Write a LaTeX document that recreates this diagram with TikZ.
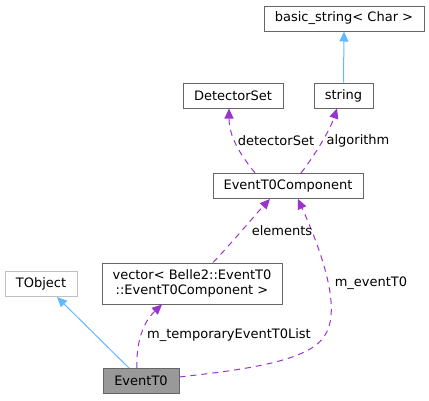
\documentclass[tikz,border=0pt]{standalone}
\usepackage{fontspec}
\setmainfont{DejaVu Sans}
\usetikzlibrary{arrows.meta,positioning}
\definecolor{usepurple}{HTML}{9A32CD}
\definecolor{inhblue}{HTML}{63B8FF}
\definecolor{boxgray}{HTML}{666666}
\definecolor{nodocgray}{HTML}{BFBFBF}
\definecolor{curfill}{HTML}{999999}
\tikzset{
  cls style/.style={rectangle, draw=boxgray, line width=1pt, fill=white,
    minimum height=25pt, inner sep=2pt, align=center,
    font=\fontsize{13}{15}\selectfont},
  inh style/.style={-{Triangle[length=10pt,width=9pt]}, draw=inhblue, line width=1pt},
  dep style/.style={-{Triangle[length=10pt,width=9pt]}, draw=usepurple, line width=1pt,
    dash pattern=on 6pt off 5pt},
  lbl style/.style={inner sep=0pt, font=\fontsize{13}{15}\selectfont}
}
\begin{document}
\begin{tikzpicture}[x=1pt,y=1pt]
\useasboundingbox (0,0) rectangle (429,-400);
% classes
\node[cls style, minimum width=160pt] (bstr) at (344,-18.5) {basic\_string< Char >};
\node[cls style, minimum width=100pt] (det) at (233,-95.5) {DetectorSet};
\node[cls style, minimum width=59pt] (str) at (343.5,-95.5) {string};
\node[cls style, minimum width=150pt] (comp) at (288,-186) {EventT0Component};
\node[cls style, draw=nodocgray, minimum width=72pt] (tobj) at (41,-284) {TObject};
\node[cls style, minimum width=180pt, minimum height=41pt] (vec) at (192,-283.5)
  {vector< Belle2::EventT0\\::EventT0Component >};
\node[cls style, fill=curfill, minimum width=76pt] (evt) at (141,-381) {EventT0};
% inheritance
\draw[inh style] (str.north) -- (bstr.south);
\draw[inh style] ([xshift=-12pt]evt.north) -- ([xshift=16pt]tobj.south);
% members
\draw[dep style] ([xshift=-33pt]comp.north) .. controls (245,-160) and (229,-140) .. ([xshift=-4pt]det.south);
\draw[dep style] ([xshift=13pt]comp.north) .. controls (315,-155) and (330,-130) .. ([xshift=-6.5pt]str.south);
\draw[dep style] ([xshift=21pt]vec.north) .. controls (230,-245) and (255,-215) .. ([xshift=-18pt]comp.south);
\draw[dep style] ([xshift=-4pt]evt.north) .. controls (136,-350) and (140,-325) .. ([xshift=-30pt]vec.south);
\draw[dep style] ([yshift=4pt]evt.east) .. controls (240,-370) and (310,-362) .. (325,-335)
  .. controls (345,-305) and (312,-230) .. ([xshift=10pt]comp.south);
% labels
\node[lbl style] (l1) at (276,-141) {detectorSet};
\node[lbl style] (l2) at (358,-141) {algorithm};
\node[lbl style] (l3) at (282,-231) {elements};
\node[lbl style] (l4) at (371,-283) {m\_eventT0};
\node[lbl style] (l5) at (229,-335) {m\_temporaryEventT0List};
\end{tikzpicture}
\end{document}
